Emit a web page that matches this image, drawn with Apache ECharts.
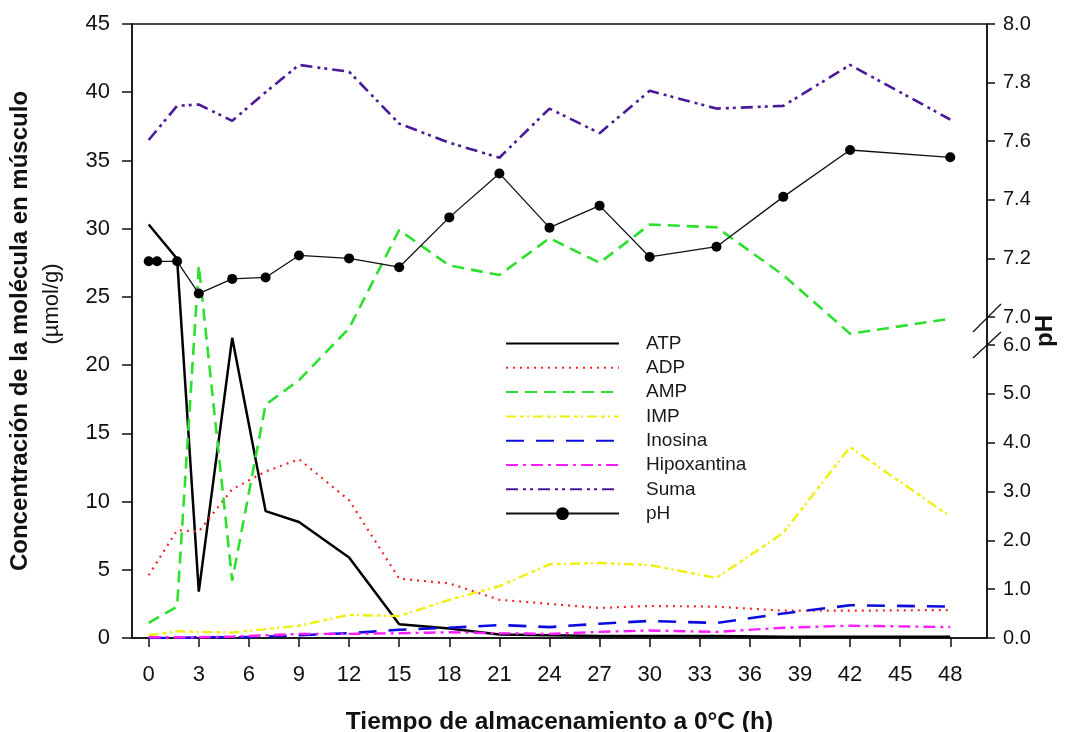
<!DOCTYPE html>
<html>
<head>
<meta charset="utf-8">
<script src="https://cdn.jsdelivr.net/npm/echarts@6/dist/echarts.min.js"></script>
<style>
  html, body { margin: 0; padding: 0; background: #fff; }
  #chart { width: 1078px; height: 732px; }
</style>
</head>
<body>
<div id="chart"></div>
<script>
// tiempos de muestreo (h)
var hours = [0, 1.7, 3, 5, 7, 9, 12, 15, 18, 21, 24, 27, 30, 34, 38, 42, 48];
var phHours = [0, 0.5, 1.7, 3, 5, 7, 9, 12, 15, 18, 21, 24, 27, 30, 34, 38, 42, 48];

// concentraciones (µmol/g)
var atp = [30.3, 27.8, 3.4, 22.0, 9.3, 8.5, 5.9, 1.0, 0.7, 0.25, 0.2, 0.15, 0.15, 0.15, 0.1, 0.1, 0.1];
var adp = [4.6, 7.9, 7.8, 10.9, 12.2, 13.1, 10.1, 4.35, 4.0, 2.8, 2.5, 2.2, 2.35, 2.3, 2.0, 2.0, 2.05];
var amp = [1.1, 2.3, 27.3, 4.2, 17.1, 18.9, 22.7, 29.9, 27.3, 26.6, 29.3, 27.5, 30.3, 30.1, 26.6, 22.3, 23.4];
var imp = [0.2, 0.5, 0.45, 0.4, 0.65, 0.9, 1.7, 1.6, 2.8, 3.8, 5.4, 5.5, 5.35, 4.4, 7.7, 14.0, 8.9];
var inosina = [0.0, 0.0, 0.05, 0.05, 0.1, 0.2, 0.35, 0.6, 0.75, 0.95, 0.8, 1.05, 1.25, 1.1, 1.8, 2.4, 2.3];
var hipoxantina = [0.05, 0.05, 0.05, 0.1, 0.2, 0.3, 0.3, 0.35, 0.42, 0.35, 0.3, 0.45, 0.55, 0.45, 0.75, 0.9, 0.8];
var suma = [36.5, 39.0, 39.1, 37.9, 40.0, 42.0, 41.5, 37.7, 36.3, 35.2, 38.8, 37.0, 40.1, 38.8, 39.0, 42.0, 38.0];
var ph = [7.19, 7.19, 7.19, 7.08, 7.13, 7.135, 7.21, 7.20, 7.17, 7.34, 7.49, 7.305, 7.38, 7.205, 7.24, 7.41, 7.57, 7.545];

var xTicks = [0, 3, 6, 9, 12, 15, 18, 21, 24, 27, 30, 33, 36, 39, 42, 45, 48];

var FONT = 'Liberation Sans, Arial, sans-serif';

function pairs(xs, ys) {
    return xs.map(function (x, i) { return [x, ys[i]]; });
}

function metabolite(name, data, color, type, width) {
    return {
        name: name,
        type: 'line',
        xAxisIndex: 0,
        yAxisIndex: 0,
        symbol: 'none',
        data: pairs(hours, data),
        itemStyle: { color: color },
        lineStyle: { color: color, type: type, width: width }
    };
}

// leyenda: sin punto para las curvas de metabolitos
function legendItem(name) {
    return name === 'pH' ? { name: name } : { name: name, itemStyle: { opacity: 0 } };
}

var chart = echarts.init(document.getElementById('chart'));

var hiddenX = function (idx) {
    return { type: 'value', gridIndex: idx, min: -1, max: 50.2, show: false };
};

var option = {
    backgroundColor: '#fff',
    animation: false,
    textStyle: { fontFamily: FONT },
    grid: [
        { left: 132, right: 91, top: 24, bottom: 94, outerBoundsMode: 'none', containLabel: false,
          show: true, borderColor: '#111', borderWidth: 1.5 },
        { left: 132, right: 91, top: 24, bottom: 415, outerBoundsMode: 'none', containLabel: false },
        { left: 132, right: 91, top: 345, bottom: 94, outerBoundsMode: 'none', containLabel: false }
    ],
    legend: {
        orient: 'vertical',
        left: 500,
        top: 329,
        itemWidth: 113,
        itemHeight: 16,
        itemGap: 5.3,
        textStyle: { fontFamily: FONT, fontSize: 19, color: '#1a1a1a', padding: [0, 0, 0, 22] },
        data: ['ATP', 'ADP', 'AMP', 'IMP', 'Inosina', 'Hipoxantina', 'Suma', 'pH'].map(legendItem)
    },
    xAxis: [
        {
            type: 'value', gridIndex: 0, min: -1, max: 50.2,
            name: 'Tiempo de almacenamiento a 0°C (h)',
            nameLocation: 'middle', nameGap: 72,
            nameTextStyle: { fontFamily: FONT, fontSize: 24.5, fontWeight: 'bold', color: '#111' },
            axisLine: { onZero: false, lineStyle: { color: '#111', width: 1.5 } },
            axisTick: { show: true, length: 9, customValues: xTicks, lineStyle: { color: '#111', width: 1.5 } },
            axisLabel: { customValues: xTicks, fontSize: 22, color: '#111', margin: 26, fontFamily: FONT },
            splitLine: { show: false }
        },
        hiddenX(1),
        hiddenX(2)
    ],
    yAxis: [
        {
            type: 'value', gridIndex: 0, position: 'left', min: 0, max: 45, interval: 5,
            name: '{b|Concentración de la molécula en músculo}\n{n|(µmol/g)}',
            nameLocation: 'middle', nameGap: 64, nameRotate: 90,
            nameTextStyle: {
                rich: {
                    b: { fontFamily: FONT, fontSize: 24, fontWeight: 'bold', color: '#111', lineHeight: 32 },
                    n: { fontFamily: FONT, fontSize: 22, color: '#111', lineHeight: 32, padding: [0, 0, 0, 54] }
                }
            },
            axisLine: { show: true, onZero: false, lineStyle: { color: '#111', width: 1.5 } },
            axisTick: { show: true, length: 10, lineStyle: { color: '#111', width: 1.5 } },
            axisLabel: { fontSize: 22, color: '#111', margin: 22, fontFamily: FONT },
            splitLine: { show: false }
        },
        {
            type: 'value', gridIndex: 0, position: 'right', min: 0, max: 45,
            name: 'pH', nameLocation: 'middle', nameGap: 46, nameRotate: 90,
            nameTextStyle: { fontFamily: FONT, fontSize: 24, fontWeight: 'bold', color: '#111' },
            axisLine: { show: true, onZero: false, lineStyle: { color: '#111', width: 1.5 } },
            axisTick: { show: false },
            axisLabel: { show: false },
            splitLine: { show: false }
        },
        {
            type: 'value', gridIndex: 1, position: 'right', min: 7, max: 8, interval: 0.2,
            axisLine: { show: false, onZero: false },
            axisTick: { show: true, length: 8, lineStyle: { color: '#111', width: 1.5 } },
            axisLabel: { fontSize: 20, color: '#111', margin: 16, fontFamily: FONT,
                formatter: function (v) { return v.toFixed(1); } },
            splitLine: { show: false }
        },
        {
            type: 'value', gridIndex: 2, position: 'right', min: 0, max: 6, interval: 1,
            axisLine: { show: false, onZero: false },
            axisTick: { show: true, length: 8, lineStyle: { color: '#111', width: 1.5 } },
            axisLabel: { fontSize: 20, color: '#111', margin: 16, fontFamily: FONT,
                formatter: function (v) { return v.toFixed(1); } },
            splitLine: { show: false }
        }
    ],
    series: [
        metabolite('ATP', atp, '#000000', 'solid', 2.5),
        metabolite('ADP', adp, '#f02828', [2, 5], 2.2),
        metabolite('AMP', amp, '#2ee02e', [12, 7], 2.6),
        metabolite('IMP', imp, '#f0f010', [10, 4, 4, 3, 2, 4], 2.4),
        metabolite('Inosina', inosina, '#0c0cdc', [18, 12], 2.6),
        metabolite('Hipoxantina', hipoxantina, '#ff1cff', [12, 5, 3, 5], 2.4),
        metabolite('Suma', suma, '#4a1a9a', [12, 5, 3, 4, 3, 5], 2.6),
        {
            name: 'pH',
            type: 'line',
            xAxisIndex: 1,
            yAxisIndex: 2,
            symbol: 'circle',
            symbolSize: 10,
            data: pairs(phHours, ph),
            itemStyle: { color: '#000' },
            lineStyle: { color: '#111', width: 1.3 },
            z: 5
        }
    ],
    graphic: [
        { type: 'line', shape: { x1: 973, y1: 332, x2: 1001, y2: 304 }, style: { stroke: '#111', lineWidth: 1.3 } },
        { type: 'line', shape: { x1: 973, y1: 358, x2: 1001, y2: 332 }, style: { stroke: '#111', lineWidth: 1.3 } }
    ]
};

chart.setOption(option);
</script>
</body>
</html>
